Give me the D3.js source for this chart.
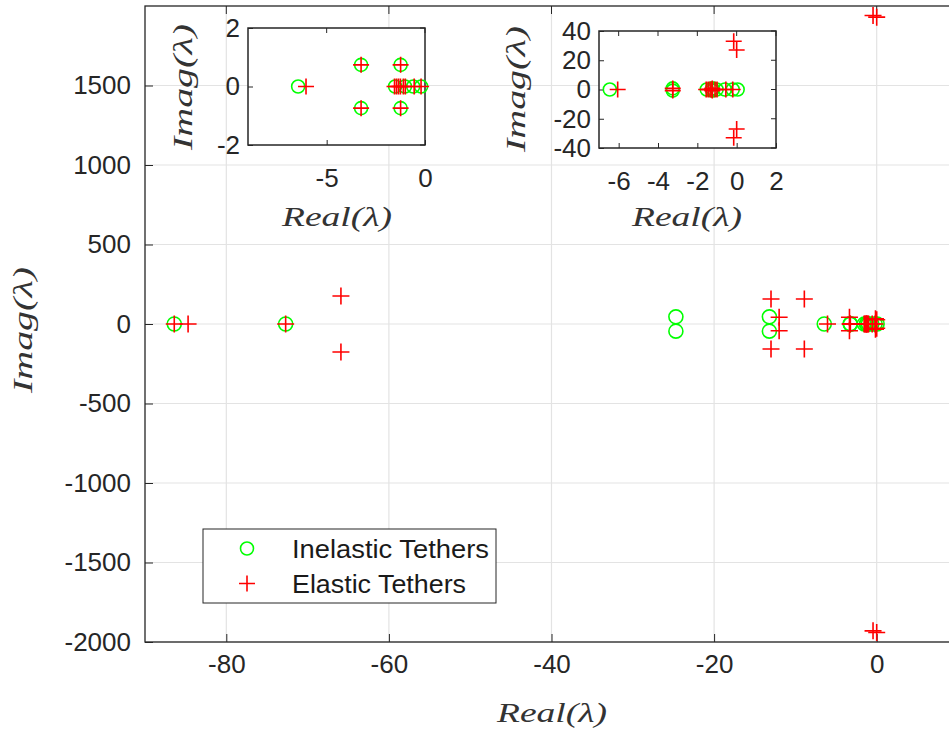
<!DOCTYPE html>
<html>
<head>
<meta charset="utf-8">
<script src="https://cdn.jsdelivr.net/npm/d3@7"></script>
<style>
  body { margin: 0; background: #fff; }
  svg { display: block; }
  .tick text { font-family: "Liberation Sans", Arial, sans-serif; fill: #262626; }
  .lbl { font-family: "Liberation Serif", "DejaVu Serif", serif; font-style: italic; fill: #333; }
</style>
</head>
<body>
<div id="chart"></div>
<script>
// eigenvalues, inelastic tethers (circles)
const inelasticRe = [-86.4, -72.7, -24.7, -24.7, -13.2, -13.2, -6.45, -3.25, -3.25, -1.24, -1.24, -1.52, -1.02, -0.6, -0.2, 0.05];
const inelasticIm = [0, 0, 45, -45, 45, -45, 0, 0.74, -0.74, 0.74, -0.74, 0, 0, 0, 0, 0];

// eigenvalues, elastic tethers (pluses)
const elasticRe = [-86.4, -84.7, -72.7, -65.9, -65.9, -13.0, -13.0, -8.9, -8.9, -12.0, -12.0, -3.35, -3.35,
  -6.05, -3.25, -3.25, -1.24, -1.24, -1.55, -1.45, -1.35, -1.25, -1.1, -1.0, -0.55, -0.2,
  -0.15, -0.15, 0, 0, -0.45, -0.45, 0, 0];
const elasticIm = [0, 0, 0, 176, -176, 157, -157, 157, -157, 42, -42, 42, -42,
  0, 0.74, -0.74, 0.74, -0.74, 0, 0, 0, 0, 0, 0, 0, 0,
  33, -33, 27, -27, 1940, -1930, 1930, -1940];

const mainXTicks = [-80, -60, -40, -20, 0];
const mainYTicks = [-2000, -1500, -1000, -500, 0, 500, 1000, 1500];
const inset1XTicks = [-5, 0];
const inset1YTicks = [-2, 0, 2];
const inset2XTicks = [-6, -4, -2, 0, 2];
const inset2YTicks = [-40, -20, 0, 20, 40];

const legendNames = ['Inelastic Tethers', 'Elastic Tethers'];

const W = 949;
const H = 733;
const axisColor = '#262626';
const gridColor = '#e3e3e3';

const svg = d3.select('#chart')
  .append('svg')
  .attr('width', W)
  .attr('height', H);

const inelastic = inelasticRe.map((r, i) => ({ re: r, im: inelasticIm[i] }));
const elastic = elasticRe.map((r, i) => ({ re: r, im: elasticIm[i] }));

// draws one MATLAB-like axes box with markers
const drawAxes = (opts) => {
  const x = d3.scaleLinear().domain(opts.xDomain).range([opts.left, opts.right]);
  const y = d3.scaleLinear().domain(opts.yDomain).range([opts.bottom, opts.top]);
  const g = svg.append('g');

  g.append('rect')
    .attr('x', opts.left).attr('y', opts.top)
    .attr('width', opts.right - opts.left).attr('height', opts.bottom - opts.top)
    .attr('fill', '#fff');

  if (opts.grid) {
    g.selectAll('.vgrid').data(opts.xTicks).enter().append('line')
      .attr('x1', (d) => x(d)).attr('x2', (d) => x(d))
      .attr('y1', opts.top).attr('y2', opts.bottom)
      .attr('stroke', gridColor).attr('stroke-width', 1.2);
    g.selectAll('.hgrid').data(opts.yTicks).enter().append('line')
      .attr('y1', (d) => y(d)).attr('y2', (d) => y(d))
      .attr('x1', opts.left).attr('x2', opts.right)
      .attr('stroke', gridColor).attr('stroke-width', 1.2);
  }

  const tl = opts.tickLen;
  const fs = opts.fontSize;
  const xAxis = g.append('g')
    .attr('transform', `translate(0,${opts.bottom})`)
    .call(d3.axisBottom(x).tickValues(opts.xTicks).tickSize(-tl).tickPadding(opts.xPad).tickFormat(d3.format('d')));
  const yAxis = g.append('g')
    .attr('transform', `translate(${opts.left},0)`)
    .call(d3.axisLeft(y).tickValues(opts.yTicks).tickSize(-tl).tickPadding(opts.yPad).tickFormat(d3.format('d')));
  [xAxis, yAxis].forEach((a) => {
    a.select('.domain').remove();
    a.selectAll('.tick line').attr('stroke', axisColor).attr('stroke-width', 1);
    // plain hyphen like the original, not the unicode minus
    a.selectAll('.tick text').style('font-size', `${fs}px`).text((d) => String(d));
  });
  // mirrored ticks on top and right
  g.selectAll('.ttop').data(opts.xTicks).enter().append('line')
    .attr('x1', (d) => x(d)).attr('x2', (d) => x(d))
    .attr('y1', opts.top).attr('y2', opts.top + tl)
    .attr('stroke', axisColor);
  g.selectAll('.tright').data(opts.yTicks).enter().append('line')
    .attr('y1', (d) => y(d)).attr('y2', (d) => y(d))
    .attr('x1', opts.right).attr('x2', opts.right - tl)
    .attr('stroke', axisColor);

  g.append('rect')
    .attr('x', opts.left).attr('y', opts.top)
    .attr('width', opts.right - opts.left).attr('height', opts.bottom - opts.top)
    .attr('fill', 'none').attr('stroke', axisColor).attr('stroke-width', opts.boxWidth);

  const inRange = (d) => d.re >= opts.xDomain[0] && d.re <= opts.xDomain[1]
    && d.im >= opts.yDomain[0] && d.im <= opts.yDomain[1];

  g.selectAll('.circ').data(inelastic.filter(inRange)).enter().append('circle')
    .attr('cx', (d) => x(d.re)).attr('cy', (d) => y(d.im))
    .attr('r', opts.r)
    .attr('fill', 'none').attr('stroke', '#00ff00').attr('stroke-width', 1.6);

  const p = opts.plus;
  g.selectAll('.plus').data(elastic.filter(inRange)).enter().append('path')
    .attr('d', (d) => {
      const cx = x(d.re);
      const cy = y(d.im);
      return `M${cx - p},${cy}H${cx + p}M${cx},${cy - p}V${cy + p}`;
    })
    .attr('fill', 'none').attr('stroke', '#ff0000').attr('stroke-width', 1.6);

  // axis labels
  g.append('text').attr('class', 'lbl')
    .attr('x', opts.xLabel[0]).attr('y', opts.xLabel[1])
    .attr('text-anchor', 'middle')
    .attr('textLength', 110).attr('lengthAdjust', 'spacingAndGlyphs')
    .style('font-size', '28px')
    .text('Real(λ)');
  g.append('text').attr('class', 'lbl')
    .attr('transform', `translate(${opts.yLabel[0]},${opts.yLabel[1]}) rotate(-90)`)
    .attr('text-anchor', 'middle')
    .attr('textLength', 126).attr('lengthAdjust', 'spacingAndGlyphs')
    .style('font-size', '28px')
    .text('Imag(λ)');
  return { x, y };
};

// main axes
drawAxes({
  xDomain: [-90, 10], yDomain: [-2000, 2000],
  left: 145, right: 958, top: 6, bottom: 642,
  xTicks: mainXTicks, yTicks: mainYTicks,
  grid: true, tickLen: 8, xPad: 13, yPad: 14, fontSize: 26, boxWidth: 1.3,
  r: 7, plus: 8.5,
  xLabel: [552, 722], yLabel: [32, 330],
});

// inset 1 (zoom near the origin)
drawAxes({
  xDomain: [-9, 0], yDomain: [-2, 2],
  left: 248, right: 425, top: 28, bottom: 145,
  xTicks: inset1XTicks, yTicks: inset1YTicks,
  grid: false, tickLen: 5, xPad: 24, yPad: 8, fontSize: 26, boxWidth: 1.5,
  r: 6.5, plus: 8,
  xLabel: [337, 226], yLabel: [192, 87],
});

// inset 2 (zoom on the slow modes)
drawAxes({
  xDomain: [-7, 2], yDomain: [-40, 40],
  left: 599, right: 776, top: 31, bottom: 148,
  xTicks: inset2XTicks, yTicks: inset2YTicks,
  grid: false, tickLen: 5, xPad: 24, yPad: 8, fontSize: 26, boxWidth: 1.5,
  r: 6.5, plus: 8,
  xLabel: [687, 226], yLabel: [525, 89],
});

// legend
const leg = svg.append('g');
leg.append('rect')
  .attr('x', 203).attr('y', 529).attr('width', 293).attr('height', 74)
  .attr('fill', '#fff').attr('stroke', axisColor).attr('stroke-width', 1);
leg.append('circle')
  .attr('cx', 247).attr('cy', 548.5).attr('r', 6.5)
  .attr('fill', 'none').attr('stroke', '#00ff00').attr('stroke-width', 1.6);
leg.append('path')
  .attr('d', 'M239,583.5H255M247,575.5V591.5')
  .attr('stroke', '#ff0000').attr('stroke-width', 1.6);
leg.selectAll('.ltext').data(legendNames).enter().append('text')
  .attr('x', 292).attr('y', (d, i) => 558 + i * 35)
  .style('font-family', '"Liberation Sans", Arial, sans-serif')
  .style('font-size', '26px')
  .attr('textLength', (d, i) => (i === 0 ? 197 : 174))
  .attr('lengthAdjust', 'spacingAndGlyphs')
  .attr('fill', '#1a1a1a')
  .text((d) => d);
</script>
</body>
</html>
